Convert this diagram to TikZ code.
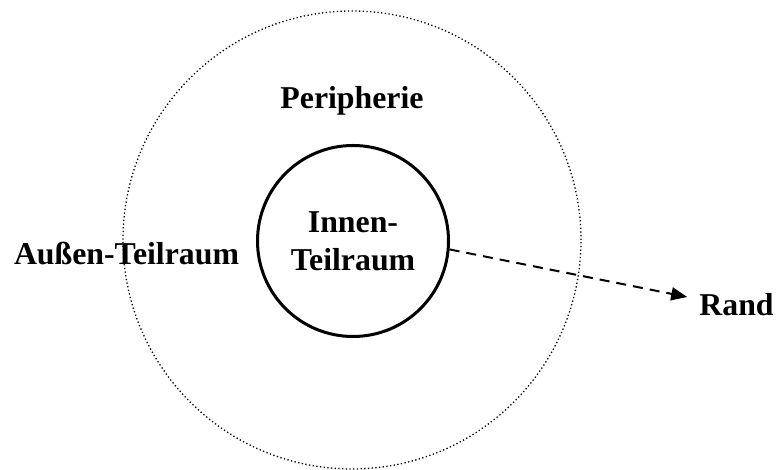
\documentclass[tikz,border=0pt]{standalone}
\usepackage{fontspec}
\setmainfont{Liberation Serif}
\usepackage{tikz}
\usetikzlibrary{arrows.meta, positioning}

\begin{document}
\begin{tikzpicture}[
  x=1pt, y=1pt,
  >={Triangle[length=16pt, width=13pt]},
  every node/.style={font=\fontsize{31.8}{38}\selectfont\bfseries},
  outerring/.style={circle, draw, line width=1.3pt, dash pattern=on 1.3pt off 2.4pt, minimum size=458pt, inner sep=0pt},
  innerring/.style={circle, draw, line width=3pt, minimum size=191pt, inner sep=0pt, align=center},
  label/.style={inner sep=0pt}
]
\useasboundingbox (0,0) rectangle (776,470);

\node[outerring] (peri) at (352,230) {};
\node[innerring] (innen) at (353,229) {Innen-\\Teilraum};

\node[label] (peritext) at (352,369.2) {Peripherie};
\node[label] (aussen) at (126.5,216) {Außen-Teilraum};
\node[label, inner xsep=12pt] (rand) at (736.5,165.5) {Rand};

\draw[->, line width=2pt, dash pattern=on 10pt off 7pt] (innen.-5) -- ([yshift=7.5pt]rand.west);

\end{tikzpicture}
\end{document}
